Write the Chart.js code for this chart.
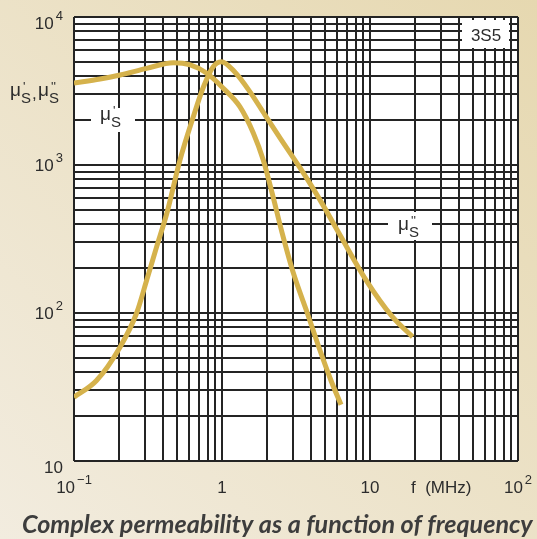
<!DOCTYPE html>
<html>
<head>
<meta charset="utf-8">
<script src="https://cdn.jsdelivr.net/npm/chart.js@4"></script>
<style>
  html, body { margin: 0; padding: 0; background: #efe8d7; }
  #wrap { width: 537px; height: 539px; position: relative; }
</style>
</head>
<body>
<div id="wrap"><canvas id="chart"></canvas></div>
<script>
// ---- Data (f in MHz) ----
const muPrimeFreq = [0.1, 0.15, 0.205, 0.31, 0.47, 0.61, 0.79, 1.02, 1.32, 1.63, 1.9, 2.18, 2.54, 3.02, 3.81, 4.59, 5.45, 6.37];
const muPrimeVal  = [3580, 3810, 4055, 4500, 4910, 4745, 4170, 3300, 2480, 1640, 1080, 647, 352, 189, 97, 56, 35, 24];

const muDoubleFreq = [0.1, 0.142, 0.205, 0.265, 0.31, 0.362, 0.424, 0.52, 0.64, 0.75, 0.87, 0.99, 1.22, 1.55, 1.95, 2.47, 3.37, 4.59, 6.27, 9.4, 14.2, 19.4];
const muDoubleVal  = [27, 35, 59, 100, 167, 281, 472, 1080, 2120, 3380, 4600, 4990, 4250, 3110, 2180, 1520, 955, 581, 336, 167, 94, 69];

// grid lines (1..9 per decade)
const xGridValues = [0.1, 0.2, 0.3, 0.4, 0.5, 0.6, 0.7, 0.8, 0.9,
                     1, 2, 3, 4, 5, 6, 7, 8, 9,
                     10, 20, 30, 40, 50, 60, 70, 80, 90, 100];
const yGridValues = [10, 20, 30, 40, 50, 60, 70, 80, 90,
                     100, 200, 300, 400, 500, 600, 700, 800, 900,
                     1000, 2000, 3000, 4000, 5000, 6000, 7000, 8000, 9000, 10000];

// tick labels: base + superscript
const xLabelValues = [0.1, 1, 10, 100];
const xLabelBase   = ['10', '1', '10', '10'];
const xLabelSup    = ['\u22121', '', '', '2'];
const yLabelValues = [10, 100, 1000, 10000];
const yLabelBase   = ['10', '10', '10', '10'];
const yLabelSup    = ['', '2', '3', '4'];

const titleText = 'Complex permeability as a function of frequency';
const gradeText = '3S5';
const xAxisText = 'f  (MHz)';

// ---- Styles ----
const CURVE = '#d5b24c';
const GRID = '#242424';
const INK = '#2c2c2c';
const SANS = '"Liberation Sans", Arial, sans-serif';

function toPoints(xs, ys) {
  return xs.map((x, i) => ({ x, y: ys[i] }));
}

// ---- mu label: mu, primes on top, S as subscript ----
function drawMu(ctx, x, base, primes) {
  ctx.font = '19px ' + SANS;
  ctx.fillText('\u03bc', x, base);
  const w = ctx.measureText('\u03bc').width;
  ctx.font = '15px ' + SANS;
  ctx.fillText('S', x + w, base + 7);
  const ws = ctx.measureText('S').width;
  ctx.font = '13px ' + SANS;
  ctx.fillText(primes, x + w + 2, base - 5);
  return w + ws;
}

// base with superscript; anchor = 'center' or 'right'
function drawPow(ctx, base, sup, x, y, anchor) {
  ctx.font = '17px ' + SANS;
  const wb = ctx.measureText(base).width;
  ctx.font = '13px ' + SANS;
  const ws = sup ? ctx.measureText(sup).width + 2 : 0;
  const total = wb + ws;
  let left = anchor === 'right' ? x - total : x - total / 2;
  ctx.font = '17px ' + SANS;
  ctx.fillText(base, left, y);
  if (sup) {
    ctx.font = '13px ' + SANS;
    ctx.fillText(sup, left + wb + 2, y - 9);
  }
}

const backdrop = {
  id: 'backdrop',
  beforeDraw(chart) {
    const { ctx, width, height, chartArea: a } = chart;
    ctx.save();
    const g = ctx.createLinearGradient(0, height, width, 0);
    g.addColorStop(0, '#f2ecdf');
    g.addColorStop(1, '#e6d8b0');
    ctx.fillStyle = g;
    ctx.fillRect(0, 0, width, height);
    ctx.fillStyle = '#ffffff';
    ctx.fillRect(a.left, a.top, a.right - a.left, a.bottom - a.top);
    ctx.restore();
  }
};

const labels = {
  id: 'labels',
  afterDraw(chart) {
    const { ctx } = chart;
    const xs = chart.scales.x, ys = chart.scales.y;
    ctx.save();
    ctx.fillStyle = INK;
    ctx.textBaseline = 'alphabetic';

    // y tick labels
    yLabelValues.forEach((v, i) => {
      const cy = Math.max(ys.getPixelForValue(v), 23);
      const off = v === 10 ? 6 : 0;
      drawPow(ctx, yLabelBase[i], yLabelSup[i], 63, cy + 6 + off, 'right');
    });
    // x tick labels
    xLabelValues.forEach((v, i) => {
      drawPow(ctx, xLabelBase[i], xLabelSup[i], xs.getPixelForValue(v), 493, 'center');
    });
    ctx.font = '17px ' + SANS;
    ctx.fillText(xAxisText, 411, 493);

    // y axis label
    let x = 10;
    x += drawMu(ctx, x, 96, "'");
    ctx.font = '17px ' + SANS;
    ctx.fillText(',', x + 1, 99);
    x += 7;
    drawMu(ctx, x, 96, "''");

    // in-plot labels on white patches
    ctx.fillStyle = '#ffffff';
    ctx.fillRect(91, 108, 44, 24);
    ctx.fillRect(388, 212, 44, 28);
    ctx.fillRect(462, 20, 47, 28);
    ctx.fillStyle = INK;
    drawMu(ctx, 100, 120, "'");
    drawMu(ctx, 398, 230, "''");
    ctx.font = '17px ' + SANS;
    ctx.textAlign = 'center';
    ctx.fillText(gradeText, 486, 41);
    ctx.textAlign = 'left';

    // caption
    ctx.fillStyle = '#3d3d3d';
    let size = 22;
    ctx.font = 'italic bold ' + size + 'px Lato, "Open Sans", sans-serif';
    const w = ctx.measureText(titleText).width;
    size = size * 511 / w;
    ctx.font = 'italic bold ' + size.toFixed(2) + 'px Lato, "Open Sans", sans-serif';
    ctx.fillText(titleText, 22, 533);
    ctx.restore();
  }
};

function logAxis(min, max, grid) {
  return {
    type: 'logarithmic',
    min, max,
    afterBuildTicks: (scale) => { scale.ticks = grid.map(v => ({ value: v })); },
    ticks: { display: false, autoSkip: false },
    grid: { color: GRID, lineWidth: 2, drawTicks: false },
    border: { display: false }
  };
}

new Chart(document.getElementById('chart'), {
  type: 'line',
  data: {
    datasets: [
      { label: "mu's", data: toPoints(muPrimeFreq, muPrimeVal) },
      { label: "mu''s", data: toPoints(muDoubleFreq, muDoubleVal) }
    ]
  },
  options: {
    responsive: true,
    maintainAspectRatio: false,
    animation: false,
    layout: { padding: { left: 74, top: 17, right: 19, bottom: 78 } },
    elements: {
      line: { borderColor: CURVE, borderWidth: 5, cubicInterpolationMode: 'monotone', borderCapStyle: 'butt' },
      point: { radius: 0 }
    },
    plugins: { legend: { display: false }, tooltip: { enabled: false } },
    scales: {
      x: logAxis(0.1, 100, xGridValues),
      y: logAxis(10, 10000, yGridValues)
    }
  },
  plugins: [backdrop, labels]
});
</script>
</body>
</html>
